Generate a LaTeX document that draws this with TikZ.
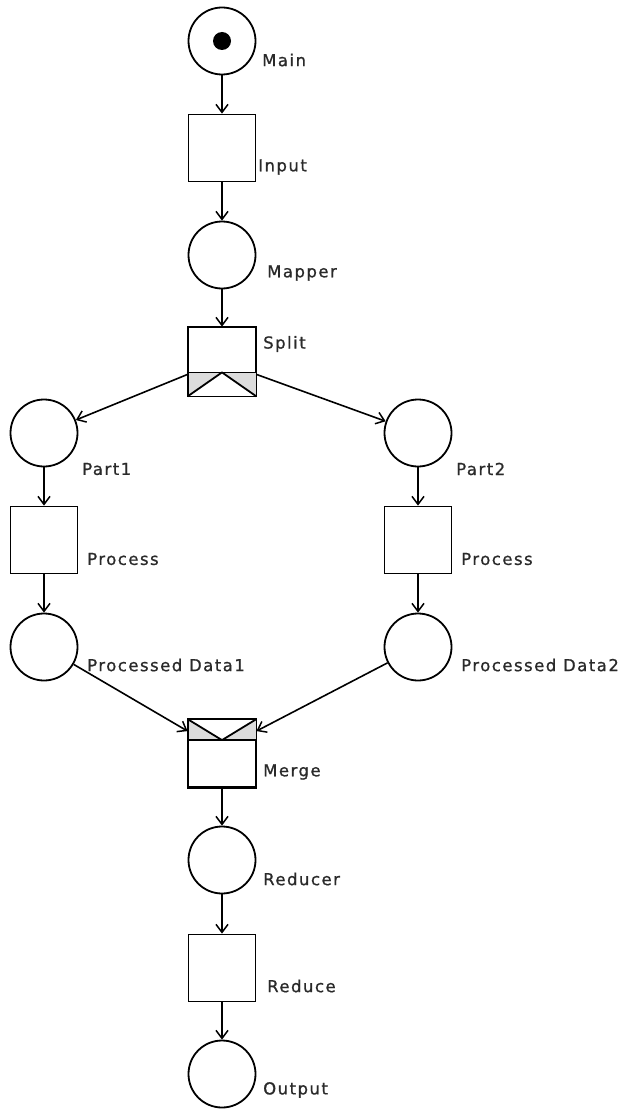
\documentclass[tikz,border=0pt]{standalone}
\usepackage{fontspec}
\setmainfont{DejaVu Sans}[LetterSpace=9,FakeBold=0.9]
\usetikzlibrary{arrows.meta,calc}
\definecolor{barfill}{HTML}{DCDCDC}
\definecolor{labeltext}{HTML}{2A2A2A}
\tikzset{
  net/.style={line width=1.8pt, draw=black},
  place/.style={net, circle, minimum size=67pt, inner sep=0pt, fill=white},
  transition/.style={net, rectangle, minimum width=67pt, minimum height=67pt, inner sep=0pt, fill=white},
  arc/.style={line width=1.6pt, -{Straight Barb[length=8pt,width=12pt,line width=1.5pt]}},
  lbl/.style={anchor=west, inner sep=0pt, font=\fontsize{16.5pt}{19pt}\selectfont, text=labeltext},
}
\begin{document}
\begin{tikzpicture}[x=1pt,y=-1pt]
\useasboundingbox (0,0) rectangle (628,1110);

% places and transitions
\node[place] (main) at (222,41) {};
\fill (main.center) circle (9pt);
\node[transition] (input) at (222,148) {};
\node[place] (mapper) at (222,255) {};
\node[transition, minimum height=68pt] (split) at (222,361.5) {};
\node[place] (part1) at (44,433) {};
\node[place] (part2) at (418,433) {};
\node[transition] (proc1) at (44,540) {};
\node[transition] (proc2) at (418,540) {};
\node[place] (pd1) at (44,647) {};
\node[place] (pd2) at (418,647) {};
\node[transition] (merge) at (222,753.5) {};
\node[place] (reducer) at (222,860) {};
\node[transition] (reduce) at (222,968) {};
\node[place] (output) at (222,1074) {};

% split bar: grey flanks round a white wedge
\fill[barfill] (split.south west) rectangle ([yshift=24pt]split.south east);
\fill[white] (split.south west) -- ([yshift=24pt]split.south) -- (split.south east) -- cycle;
\draw[net] ([yshift=24pt]split.south west) -- ([yshift=24pt]split.south east);
\draw[net, line join=round] (split.south west) -- ([yshift=24pt]split.south) -- (split.south east);
\draw[net] (split.south west) rectangle (split.north east);

% merge bar: grey flanks round a white wedge
\fill[barfill] (merge.north west) rectangle ([yshift=-21pt]merge.north east);
\fill[white] (merge.north west) -- ([yshift=-21pt]merge.north) -- (merge.north east) -- cycle;
\draw[net] ([yshift=-21pt]merge.north west) -- ([yshift=-21pt]merge.north east);
\draw[net, line join=round] (merge.north west) -- ([yshift=-21pt]merge.north) -- (merge.north east);
\draw[net] (merge.south west) rectangle (merge.north east);

% arcs
\draw[arc] (main) -- (input);
\draw[arc] (input) -- (mapper);
\draw[arc] (mapper) -- (split);
\draw[arc] ([yshift=22pt]split.south west) -- (part1);
\draw[arc] ([yshift=22pt]split.south east) -- (part2);
\draw[arc] (part1) -- (proc1);
\draw[arc] (part2) -- (proc2);
\draw[arc] (proc1) -- (pd1);
\draw[arc] (proc2) -- (pd2);
\draw[arc] (pd1) -- ([yshift=-12pt]merge.north west);
\draw[arc] (pd2) -- ([yshift=-12pt]merge.north east);
\draw[arc] (merge) -- (reducer);
\draw[arc] (reducer) -- (reduce);
\draw[arc] (reduce) -- (output);

% labels
\node[lbl] (lmain) at (262,60) {Main};
\node[lbl] (linput) at (258,167) {Input};
\node[lbl] (lmapper) at (267,273) {Mapper};
\node[lbl] (lsplit) at (263,344) {Split};
\node[lbl] (lpart1) at (82,469) {Part1};
\node[lbl] (lproc1) at (87,559) {Process};
\node[lbl] (lpd1) at (87,665) {Processed Data1};
\node[lbl] (lpart2) at (456,469) {Part2};
\node[lbl] (lproc2) at (461,559) {Process};
\node[lbl] (lpd2) at (461,665) {Processed Data2};
\node[lbl] (lmerge) at (263,772) {Merge};
\node[lbl] (lreducer) at (263,879) {Reducer};
\node[lbl] (lreduce) at (267,986) {Reduce};
\node[lbl] (loutput) at (263,1090) {Output};
\end{tikzpicture}
\end{document}
